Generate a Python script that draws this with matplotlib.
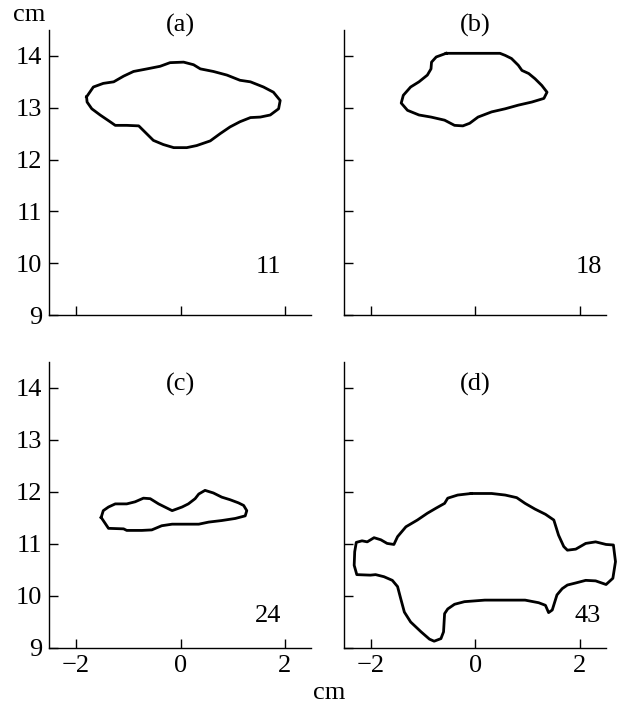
import matplotlib
matplotlib.use('Agg')
import numpy as np
import matplotlib.pyplot as plt

plt.rcParams['font.family'] = ['Liberation Serif', 'DejaVu Serif']
plt.rcParams['font.size'] = 19

# contour outlines, cm
a_x = [-1.80, -1.67, -1.48, -1.28, -1.09, -0.90, -0.64, -0.39, -0.20, 0.06, 0.25, 0.38,
       0.63, 0.89, 1.14, 1.34, 1.59, 1.78, 1.91, 1.88, 1.72, 1.53, 1.34, 1.14, 0.95,
       0.76, 0.57, 0.31, 0.12, -0.13, -0.33, -0.52, -0.68, -0.80, -1.03, -1.25, -1.35,
       -1.54, -1.70, -1.79]
a_y = [13.21, 13.40, 13.47, 13.50, 13.61, 13.70, 13.75, 13.80, 13.87, 13.88, 13.83, 13.75,
       13.70, 13.63, 13.53, 13.50, 13.40, 13.30, 13.14, 12.98, 12.86, 12.82, 12.81, 12.73,
       12.63, 12.50, 12.36, 12.27, 12.23, 12.23, 12.29, 12.37, 12.53, 12.65, 12.66, 12.66,
       12.73, 12.86, 12.98, 13.11]

b_x = [-0.56, 0.47, 0.57, 0.69, 0.82, 0.89, 1.02, 1.14, 1.27, 1.37, 1.31, 1.08, 0.82,
       0.57, 0.31, 0.05, -0.11, -0.24, -0.40, -0.59, -0.85, -1.08, -1.30, -1.42, -1.38,
       -1.24, -1.08, -0.92, -0.85, -0.84, -0.75]
b_y = [14.05, 14.05, 14.01, 13.95, 13.82, 13.72, 13.66, 13.56, 13.43, 13.30, 13.18, 13.11,
       13.05, 12.98, 12.92, 12.82, 12.70, 12.65, 12.66, 12.76, 12.82, 12.86, 12.95, 13.09,
       13.24, 13.40, 13.50, 13.63, 13.75, 13.88, 13.98]

c_x = [-1.52, -1.48, -1.38, -1.25, -1.03, -0.87, -0.71, -0.58, -0.42, -0.16, 0.03, 0.15,
       0.28, 0.35, 0.47, 0.63, 0.79, 0.95, 1.11, 1.21, 1.27, 1.24, 1.05, 0.79, 0.54, 0.35,
       -0.16, -0.36, -0.55, -0.74, -1.03, -1.09, -1.38, -1.46]
c_y = [11.51, 11.64, 11.71, 11.77, 11.77, 11.81, 11.88, 11.87, 11.77, 11.64, 11.71, 11.77,
       11.87, 11.96, 12.03, 11.98, 11.90, 11.85, 11.79, 11.74, 11.64, 11.54, 11.49, 11.45,
       11.42, 11.38, 11.38, 11.35, 11.27, 11.26, 11.26, 11.29, 11.30, 11.42]

d_x = [-0.08, 0.31, 0.57, 0.79, 0.95, 1.14, 1.34, 1.50, 1.59, 1.69, 1.76, 1.92, 2.11,
       2.30, 2.50, 2.64, 2.68, 2.63, 2.50, 2.30, 2.11, 1.92, 1.76, 1.66, 1.56, 1.47, 1.40,
       1.34, 1.21, 0.95, 0.57, 0.18, -0.21, -0.40, -0.53, -0.59, -0.61, -0.66, -0.79,
       -0.88, -1.04, -1.24, -1.36, -1.43, -1.49, -1.59, -1.75, -1.91, -2.01, -2.27, -2.32,
       -2.31, -2.28, -2.17, -2.07, -1.94, -1.81, -1.69, -1.56, -1.49, -1.33, -1.11, -0.92,
       -0.75, -0.59, -0.53, -0.34]
d_y = [11.97, 11.97, 11.94, 11.89, 11.78, 11.67, 11.57, 11.46, 11.17, 10.95, 10.88, 10.90,
       11.01, 11.04, 10.99, 10.98, 10.66, 10.34, 10.22, 10.29, 10.30, 10.25, 10.21, 10.14,
       10.02, 9.73, 9.68, 9.82, 9.87, 9.92, 9.92, 9.92, 9.89, 9.84, 9.75, 9.66, 9.31, 9.18,
       9.13, 9.17, 9.31, 9.50, 9.69, 9.95, 10.18, 10.30, 10.37, 10.41, 10.40, 10.41, 10.59,
       10.85, 11.03, 11.06, 11.04, 11.12, 11.08, 11.01, 10.99, 11.14, 11.33, 11.46, 11.59,
       11.69, 11.78, 11.88, 11.94]

panel_labels = ['(a)', '(b)', '(c)', '(d)']
panel_numbers = ['11', '18', '24', '43']
x_ticks = [-2, 0, 2]
y_ticks = [9, 10, 11, 12, 13, 14]

shapes = [(a_x, a_y), (b_x, b_y), (c_x, c_y), (d_x, d_y)]
# label / number placement per panel (data coords)
label_pos = [(0, 14.59), (0, 14.59), (0, 14.07), (0, 14.07)]
number_pos = [(1.69, 9.93), (2.17, 9.93), (1.67, 9.62), (2.15, 9.62)]

fig = plt.figure(figsize=(6.17, 7.06), dpi=100)
boxes = [
    [0.0794, 0.5538, 0.4246, 0.4037],
    [0.5571, 0.5538, 0.4252, 0.4037],
    [0.0794, 0.0822, 0.4246, 0.4052],
    [0.5571, 0.0822, 0.4252, 0.4052],
]

for i, box in enumerate(boxes):
    ax = fig.add_axes(box)
    xs, ys = shapes[i]
    ax.plot(list(xs) + [xs[0]], list(ys) + [ys[0]], color='black', lw=2.0,
            solid_joinstyle='round', clip_on=False)
    ax.set_xlim(-2.52, 2.5)
    ax.set_ylim(9, 14.5)
    ax.set_xticks(x_ticks)
    ax.set_yticks(y_ticks)
    ax.set_xticklabels(['\u22122', '0', '2'])
    ax.spines['top'].set_visible(False)
    ax.spines['right'].set_visible(False)
    ax.spines['left'].set_linewidth(1.0)
    ax.spines['bottom'].set_linewidth(1.0)
    ax.tick_params(direction='in', length=6.5, width=1.0, pad=5, labelsize=19)
    if i < 2:
        ax.tick_params(labelbottom=False)
    if i % 2 == 1:
        ax.tick_params(labelleft=False)
    lx, ly = label_pos[i]
    ax.text(lx, ly, panel_labels[i], ha='center', va='center', fontsize=19, clip_on=False)
    nx, ny = number_pos[i]
    ax.text(nx, ny, panel_numbers[i], ha='center', va='center', fontsize=19)

fig.text(29 / 617, 1 - 15 / 706, 'cm', ha='center', va='center', fontsize=19)
fig.text(329 / 617, 1 - 693 / 706, 'cm', ha='center', va='center', fontsize=19)

fig.savefig('out.png', dpi=100, facecolor='white')
